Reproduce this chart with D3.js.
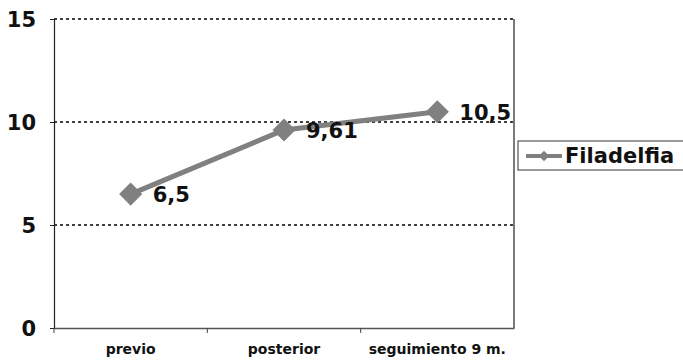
<!DOCTYPE html>
<html>
<head>
<meta charset="utf-8">
<script src="https://cdn.jsdelivr.net/npm/d3@7"></script>
<style>
  body { margin: 0; background: #fff; }
  text { font-family: "DejaVu Sans", Verdana, sans-serif; font-weight: bold; }
</style>
</head>
<body>
<div id="chart"></div>
<script>
let categories = ['previo', 'posterior', 'seguimiento 9 m.'];
let values = [6.5, 9.61, 10.5];
let valueLabels = ['6,5', '9,61', '10,5'];
let yTicks = [0, 5, 10, 15];
let seriesName = 'Filadelfia';

let width = 683, height = 360;
let plotLeft = 54, plotRight = 514, plotTop = 19, plotBottom = 328;
let grey = '#808080';

let svg = d3.select('#chart').append('svg')
            .attr('width', width)
            .attr('height', height);

let x = d3.scaleBand().domain(categories).range([plotLeft, plotRight]);
let y = d3.scaleLinear().domain([0, 15]).range([plotBottom, plotTop]);

// dotted gridlines
svg.append('g')
    .selectAll('line')
    .data(yTicks.filter(d => d > 0))
    .join('line')
        .attr('x1', plotLeft).attr('x2', plotRight)
        .attr('y1', d => y(d)).attr('y2', d => y(d))
        .attr('stroke', '#000')
        .attr('stroke-width', 1.5)
        .attr('stroke-dasharray', '3,3');

// y axis
let yAxis = svg.append('g')
    .attr('transform', `translate(${plotLeft},0)`)
    .call(d3.axisLeft(y).tickValues(yTicks).tickSize(4).tickPadding(14));
yAxis.select('.domain').attr('stroke', '#222').attr('stroke-width', 1.2);
yAxis.selectAll('.tick line').attr('stroke', '#222');
yAxis.selectAll('.tick text')
    .attr('font-size', 21)
    .attr('fill', '#111')
    .attr('dy', '0.36em');

// right border of plot
svg.append('line')
    .attr('x1', plotRight).attr('x2', plotRight)
    .attr('y1', plotTop).attr('y2', plotBottom)
    .attr('stroke', '#222').attr('stroke-width', 1.2);

// x axis
let xAxis = svg.append('g')
    .attr('transform', `translate(0,${plotBottom})`)
    .call(d3.axisBottom(x).tickSize(0).tickPadding(16));
xAxis.select('.domain').attr('stroke', '#555').attr('stroke-width', 1.5);
xAxis.selectAll('.tick text')
    .attr('font-size', 14)
    .attr('fill', '#111');
svg.append('g')
    .selectAll('line')
    .data(categories)
    .join('line')
        .attr('x1', d => x(d)).attr('x2', d => x(d))
        .attr('y1', plotBottom).attr('y2', plotBottom + 5)
        .attr('stroke', '#444');

// series line
let cx = d => x(d) + x.bandwidth() / 2;
let line = d3.line()
    .x((d, i) => cx(categories[i]))
    .y(d => y(d));

svg.append('path')
    .datum(values)
    .attr('d', line)
    .attr('fill', 'none')
    .attr('stroke', grey)
    .attr('stroke-width', 5);

let diamond = d3.symbol().type(d3.symbolDiamond2).size(340);
svg.append('g')
    .selectAll('path')
    .data(values)
    .join('path')
        .attr('d', diamond)
        .attr('transform', (d, i) => `translate(${cx(categories[i])},${y(d)})`)
        .attr('fill', grey);

svg.append('g')
    .selectAll('text')
    .data(values)
    .join('text')
        .attr('x', (d, i) => cx(categories[i]) + 22)
        .attr('y', d => y(d) + 8)
        .attr('font-size', 21)
        .attr('fill', '#111')
        .text((d, i) => valueLabels[i]);

// legend
let lg = svg.append('g').attr('transform', 'translate(518,141)');
lg.append('rect')
    .attr('width', 180).attr('height', 29)
    .attr('fill', '#fff')
    .attr('stroke', '#555').attr('stroke-width', 1.2);
lg.append('line')
    .attr('x1', 8).attr('x2', 44)
    .attr('y1', 15).attr('y2', 15)
    .attr('stroke', grey).attr('stroke-width', 4);
lg.append('path')
    .attr('d', d3.symbol().type(d3.symbolDiamond2).size(70))
    .attr('transform', 'translate(26,15)')
    .attr('fill', grey);
lg.append('text')
    .attr('x', 47).attr('y', 22)
    .attr('font-size', 21)
    .attr('fill', '#111')
    .text(seriesName);
</script>
</body>
</html>
